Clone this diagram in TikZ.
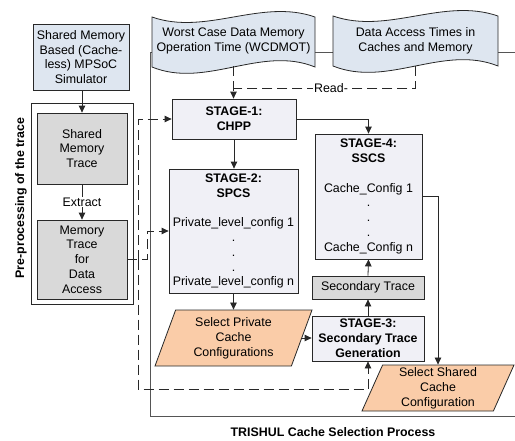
\documentclass[tikz,border=0pt]{standalone}
\usepackage{fontspec}
\setmainfont{Liberation Sans}
\usetikzlibrary{arrows.meta,shapes.geometric,calc}
\definecolor{docfill}{RGB}{222,230,240}
\definecolor{stagefill}{RGB}{240,240,246}
\definecolor{grayfill}{RGB}{217,217,217}
\definecolor{orangefill}{RGB}{250,204,168}
\definecolor{linec}{RGB}{40,40,40}
\definecolor{framec}{RGB}{85,85,85}
\newcommand\myfs{\fontsize{12.4}{14.8}\selectfont}
\tikzset{
  base/.style={draw=linec, line width=0.8pt, inner sep=0pt, align=center},
  stagebox/.style={base, fill=stagefill},
  graybox/.style={base, fill=grayfill},
  para/.style={base, fill=orangefill, trapezium, trapezium left angle=63.4,
     trapezium right angle=116.6, trapezium stretches body},
  arr/.style={draw=linec, line width=0.8pt, -{Triangle[length=7pt,width=6.5pt]}},
  con/.style={draw=linec, line width=0.8pt},
  dsh/.style={dash pattern=on 10pt off 5pt},
  lbl/.style={fill=white, inner sep=1pt},
  docshape/.style={draw=linec, line width=0.8pt, fill=docfill},
}
\begin{document}
\begin{tikzpicture}[x=1pt,y=-1pt,font=\myfs]
\useasboundingbox (0,0) rectangle (515,440);

% frame of the TRISHUL process
\draw[draw=framec, line width=0.8pt] (515,52) -- (150,52) -- (150,416) -- (515,416);

% input documents
\path[docshape] (152,17) .. controls (206,36) and (261,-2) .. (315,17) -- (315,67)
   .. controls (261,45) and (206,89) .. (152,67) -- cycle;
\node[inner sep=0pt, minimum width=163pt, minimum height=50pt, align=center] (d1) at (233.5,41)
   {Worst Case Data Memory\\Operation Time (WCDMOT)};
\path[docshape] (333,16) .. controls (388,35) and (443,-3) .. (498,16) -- (498,66)
   .. controls (443,44) and (388,88) .. (333,66) -- cycle;
\node[inner sep=0pt, minimum width=165pt, minimum height=50pt, align=center] (d2) at (415.5,41)
   {Data Access Times in\\Caches and Memory};

% pre-processing
\node[base, fill=docfill, minimum width=96pt, minimum height=66pt] (sim) at (81,57)
   {Shared Memory\\Based (Cache-\\less) MPSoC\\Simulator};
\node[base, fill=white, minimum width=102pt, minimum height=201pt] (pre) at (82,203.5) {};
\node[graybox, minimum width=90pt, minimum height=71pt] (smt) at (82,148.5)
   {Shared\\Memory\\Trace};
\node[graybox, minimum width=90pt, minimum height=79pt] (mta) at (82,259.5)
   {Memory\\Trace\\for\\Data\\Access};
\node[rotate=90, font=\myfs\bfseries] (prelbl) at (21,198) {Pre-processing of the trace};

% stages
\node[stagebox, minimum width=124pt, minimum height=40pt] (s1) at (234,119)
   {\textbf{STAGE-1:}\\\textbf{CHPP}};
\node[stagebox, minimum width=129pt, minimum height=124pt] (s2) at (233.5,231)
   {\textbf{STAGE-2:}\\\textbf{SPCS}\\\mbox{}\\Private\_level\_config 1\\.\\.\\.\\Private\_level\_config n};
\node[stagebox, minimum width=107pt, minimum height=125pt] (s4) at (368.5,196.5)
   {\textbf{STAGE-4:}\\\textbf{SSCS}\\\mbox{}\\Cache\_Config 1\\.\\.\\.\\Cache\_Config n};
\node[graybox, minimum width=112pt, minimum height=23pt] (st) at (368,287.5) {Secondary Trace};
\node[stagebox, minimum width=112pt, minimum height=45pt] (s3) at (368,338.5)
   {\textbf{STAGE-3:}\\\textbf{Secondary Trace}\\\textbf{Generation}};
\node[para, minimum width=157pt, minimum height=56pt] (pp) at (233.5,338)
   {Select Private\\Cache\\Configurations};
\node[para, minimum width=152pt, minimum height=46pt] (ps) at (438,388)
   {Select Shared\\Cache\\Configuration};

% title
\node[font=\myfs\bfseries] (title) at (333,432) {TRISHUL Cache Selection Process};

% solid connectors
\draw[arr] (sim.south -| smt.north) -- (smt.north);
\draw[arr] (smt.south) -- node[lbl] (ex) {Extract} (mta.north);
\draw[arr] (s1.south) -- (s1.south |- s2.north);
\draw[arr] (s1.east) -| (s4.north);
\draw[arr] (s2.south) -- (s2.south |- pp.north);
\draw[arr] (pp.east) -- (pp.east -| s3.west);
\draw[arr] (s3.north) -- (st.south);
\draw[arr] (st.north) -- (s4.south);
\draw[arr] (s4.east) -| (ps.north);

% dashed connectors
\coordinate (rd) at (234,88);
\coordinate (c2) at (147,231);
\coordinate (c3) at (138,119);
\coordinate (c4) at (138,389);
\draw[arr,dsh] (d1.south) -- (d1.south |- s1.north);
\draw[con,dsh] (d2.south) |- (rd);
\node[lbl] (read) at (331,88) {Read-};
\draw[arr,dsh] (mta.east) -| (c2) -- (c2 -| s2.west);
\draw[arr,dsh] (mta.east -| c3) -- (c3) -- (s1.west);
\draw[arr,dsh] (mta.east -| c3) -- (c4) -| (s3.south);
\end{tikzpicture}
\end{document}
